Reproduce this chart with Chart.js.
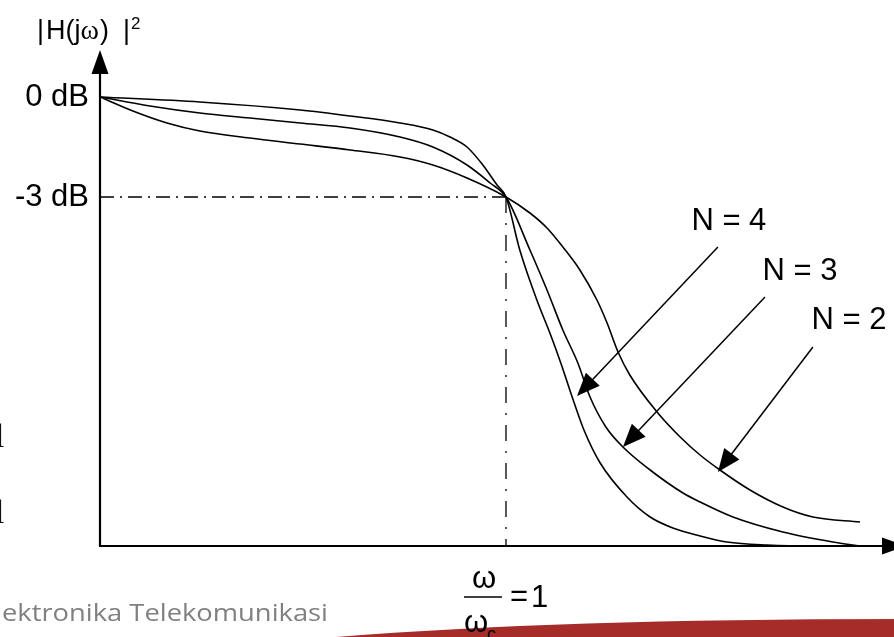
<!DOCTYPE html>
<html>
<head>
<meta charset="utf-8">
<title>Butterworth |H(jω)|²</title>
<script src="https://cdn.jsdelivr.net/npm/chart.js@4.4.0/dist/chart.umd.min.js"></script>
<style>
    html, body { margin: 0; padding: 0; background: #fff; }
    #wrap { width: 894px; height: 637px; position: relative; }
</style>
</head>
<body>
<div id="wrap"><canvas id="chart"></canvas></div>
<script>
// x: ω/ωc, y: gain in dB
const curveN2X = [0, 0.081, 0.165, 0.246, 0.369, 0.493, 0.616, 0.739, 0.820, 0.904, 1.0,
    1.059, 1.101, 1.140, 1.182, 1.224, 1.249, 1.276, 1.305, 1.372, 1.429, 1.478, 1.527,
    1.601, 1.682, 1.756, 1.872];
const curveN2Y = [0, -0.42, -0.78, -1.02, -1.23, -1.41, -1.59, -1.80, -2.04, -2.43, -3.0,
    -3.48, -3.93, -4.50, -5.19, -6.09, -6.78, -7.65, -8.34, -9.45, -10.20, -10.74, -11.19,
    -11.79, -12.30, -12.60, -12.75];

const curveN3X = [0, 0.123, 0.246, 0.369, 0.493, 0.616, 0.739, 0.820, 0.904, 0.961, 1.0,
    1.059, 1.101, 1.140, 1.177, 1.207, 1.246, 1.288, 1.355, 1.436, 1.478, 1.559, 1.682, 1.805, 1.872];
const curveN3Y = [0, -0.27, -0.48, -0.63, -0.78, -0.93, -1.20, -1.50, -2.04, -2.58, -3.0,
    -4.59, -5.79, -6.99, -7.98, -9.00, -9.90, -10.50, -11.19, -11.88, -12.15, -12.60, -13.05, -13.35, -13.47];

const curveN4X = [0, 0.246, 0.493, 0.616, 0.739, 0.820, 0.862, 0.904, 0.943, 0.978, 1.0,
    1.034, 1.076, 1.110, 1.135, 1.163, 1.192, 1.232, 1.298, 1.355, 1.411, 1.478, 1.544, 1.643, 1.756, 1.872];
const curveN4Y = [0, -0.15, -0.39, -0.57, -0.78, -0.99, -1.20, -1.50, -2.04, -2.64, -3.0,
    -4.59, -6.09, -7.14, -7.98, -9.00, -9.99, -10.98, -12.00, -12.60, -12.93, -13.17, -13.35, -13.44, -13.47, -13.47];

const yTickValues = [0, -3];
const yTickLabels = ['0 dB', '-3 dB'];
const cutoffX = 1;
const cutoffDb = -3;

// axis range
const xMin = 0, xMax = 1.9557;
const yMin = -13.47, yMax = 1.41;

// labels and arrows (N = 4, 3, 2)
const labelText = ['N = 4', 'N = 3', 'N = 2'];
const labelX = [1.549, 1.724, 1.845];
const labelY = [-3.72, -5.22, -6.69];
const arrowFromX = [1.522, 1.638, 1.756];
const arrowFromY = [-4.5, -6.0, -7.5];
const arrowToX = [1.175, 1.288, 1.522];
const arrowToY = [-8.97, -10.5, -11.25];

const toPoints = (xs, ys) => xs.map((x, i) => ({ x: x, y: ys[i] }));

function curve(xs, ys) {
    return {
        data: toPoints(xs, ys),
        borderColor: '#000',
        borderWidth: 1.6,
        pointRadius: 0,
        cubicInterpolationMode: 'monotone',
        fill: false
    };
}

function drawArrowHead(ctx, x1, y1, x2, y2, len, half) {
    const a = Math.atan2(y2 - y1, x2 - x1);
    ctx.beginPath();
    ctx.moveTo(x2, y2);
    ctx.lineTo(x2 - len * Math.cos(a) + half * Math.sin(a), y2 - len * Math.sin(a) - half * Math.cos(a));
    ctx.lineTo(x2 - len * Math.cos(a) - half * Math.sin(a), y2 - len * Math.sin(a) + half * Math.cos(a));
    ctx.closePath();
    ctx.fill();
}

// slide background: footer text and red band
const slidePlugin = {
    id: 'slide',
    beforeDraw(chart) {
        const ctx = chart.ctx;
        const w = chart.width, h = chart.height;
        ctx.save();
        ctx.fillStyle = '#fff';
        ctx.fillRect(0, 0, w, h);

        const band = ctx.createLinearGradient(0, 618, 0, h);
        band.addColorStop(0, '#b0403a');
        band.addColorStop(0.15, '#a52c28');
        band.addColorStop(1, '#a62c29');
        ctx.fillStyle = band;
        ctx.beginPath();
        ctx.moveTo(336, h);
        ctx.quadraticCurveTo(560, 619, w, 619);
        ctx.lineTo(w, h);
        ctx.closePath();
        ctx.fill();

        ctx.fillStyle = '#808080';
        ctx.font = '23px "Open Sans", "Noto Sans", sans-serif';
        ctx.textBaseline = 'alphabetic';
        const footer = 'ektronika Telekomunikasi';
        const fw = ctx.measureText(footer).width;
        ctx.translate(2, 621);
        ctx.scale(326 / fw, 1);
        ctx.fillText(footer, 0, 0);
        ctx.restore();

        // cut-off glyphs of the slide text at the left edge
        ctx.save();
        ctx.fillStyle = '#111';
        ctx.font = '34px "Liberation Serif", serif';
        ctx.fillText('l', -5, 447);
        ctx.fillText('l', -5, 523);
        ctx.restore();
    },
    afterDatasetsDraw(chart) {
        const ctx = chart.ctx;
        const xs = chart.scales.x, ys = chart.scales.y;
        const x0 = xs.getPixelForValue(xMin);
        const yb = ys.getPixelForValue(yMin);
        const yt = ys.getPixelForValue(yMax);
        const xr = xs.getPixelForValue(xMax);
        ctx.save();
        ctx.strokeStyle = '#000';
        ctx.fillStyle = '#000';

        // axes with arrow heads
        ctx.lineWidth = 2.2;
        ctx.beginPath();
        ctx.moveTo(x0, yb);
        ctx.lineTo(x0, yt + 20);
        ctx.moveTo(x0 - 1, yb);
        ctx.lineTo(xr - 8, yb);
        ctx.stroke();
        drawArrowHead(ctx, x0, yb, x0, yt, 24, 8.5);
        drawArrowHead(ctx, x0, yb, xr + 12, yb, 24, 8.5);

        // N labels and their arrows
        ctx.lineWidth = 1.5;
        ctx.font = '31px "Liberation Sans", Arial, sans-serif';
        ctx.textAlign = 'center';
        ctx.textBaseline = 'middle';
        labelText.forEach((t, i) => {
            ctx.fillText(t, xs.getPixelForValue(labelX[i]), ys.getPixelForValue(labelY[i]));
            const ax = xs.getPixelForValue(arrowFromX[i]), ay = ys.getPixelForValue(arrowFromY[i]);
            const bx = xs.getPixelForValue(arrowToX[i]), by = ys.getPixelForValue(arrowToY[i]);
            const a = Math.atan2(by - ay, bx - ax);
            ctx.beginPath();
            ctx.moveTo(ax, ay);
            ctx.lineTo(bx - 20 * Math.cos(a), by - 20 * Math.sin(a));
            ctx.stroke();
            drawArrowHead(ctx, ax, ay, bx, by, 23, 9.5);
        });

        // y axis title |H(jω)|²
        ctx.textAlign = 'left';
        ctx.textBaseline = 'alphabetic';
        ctx.font = '27px "Liberation Sans", Arial, sans-serif';
        ctx.fillText('|', x0 - 63, 39);
        ctx.fillText('H(j', x0 - 54, 39);
        let cx = x0 - 54 + ctx.measureText('H(j').width;
        ctx.font = '28px "Liberation Serif", serif';
        ctx.fillText('ω', cx, 39);
        cx += ctx.measureText('ω').width;
        ctx.font = '27px "Liberation Sans", Arial, sans-serif';
        ctx.fillText(')', cx + 1, 39);
        ctx.fillText('|', x0 + 23, 39);
        ctx.font = '17px "Liberation Sans", Arial, sans-serif';
        ctx.fillText('2', x0 + 31, 29);

        // x label ω/ωc = 1 under the cutoff
        const xc = xs.getPixelForValue(cutoffX);
        ctx.font = '31px "Liberation Sans", Arial, sans-serif';
        ctx.textAlign = 'center';
        ctx.fillText('ω', xc - 22, 588);
        ctx.fillText('ω', xc - 30, 632);
        ctx.lineWidth = 1.6;
        ctx.beginPath();
        ctx.moveTo(xc - 42, 597);
        ctx.lineTo(xc - 4, 597);
        ctx.stroke();
        ctx.textAlign = 'left';
        ctx.fillText('=', xc + 4, 606);
        ctx.fillText('1', xc + 25, 607);
        ctx.font = '18px "Liberation Sans", Arial, sans-serif';
        ctx.fillText('c', xc - 19, 640);
        ctx.restore();
    }
};

const ctx = document.getElementById('chart').getContext('2d');
new Chart(ctx, {
    type: 'line',
    data: {
        datasets: [
            {
                data: [{ x: xMin, y: cutoffDb }, { x: cutoffX, y: cutoffDb }],
                borderColor: '#000',
                borderWidth: 1.3,
                borderDash: [14, 6, 2, 6],
                pointRadius: 0
            },
            {
                data: [{ x: cutoffX, y: cutoffDb }, { x: cutoffX, y: yMin }],
                borderColor: '#000',
                borderWidth: 1.3,
                borderDash: [16, 10, 2, 10],
                pointRadius: 0
            },
            curve(curveN2X, curveN2Y),
            curve(curveN3X, curveN3Y),
            curve(curveN4X, curveN4Y)
        ]
    },
    options: {
        responsive: true,
        maintainAspectRatio: false,
        animation: false,
        layout: { padding: { top: 50, left: 0, right: 0, bottom: 0 } },
        plugins: {
            legend: { display: false },
            title: { display: false },
            tooltip: { enabled: false }
        },
        scales: {
            x: {
                type: 'linear',
                min: xMin,
                max: xMax,
                grid: { display: false, drawTicks: false },
                border: { display: false },
                ticks: { display: false },
                afterFit: (scale) => { scale.height = 91; }
            },
            y: {
                type: 'linear',
                min: yMin,
                max: yMax,
                grid: { display: false, drawTicks: false },
                border: { display: false },
                afterBuildTicks: (scale) => {
                    scale.ticks = yTickValues.map(v => ({ value: v }));
                },
                afterFit: (scale) => { scale.width = 100; },
                ticks: {
                    color: '#000',
                    padding: 11,
                    font: { family: '"Liberation Sans", Arial, sans-serif', size: 31 },
                    callback: (value) => yTickLabels[yTickValues.indexOf(value)]
                }
            }
        }
    },
    plugins: [slidePlugin]
});
</script>
</body>
</html>
